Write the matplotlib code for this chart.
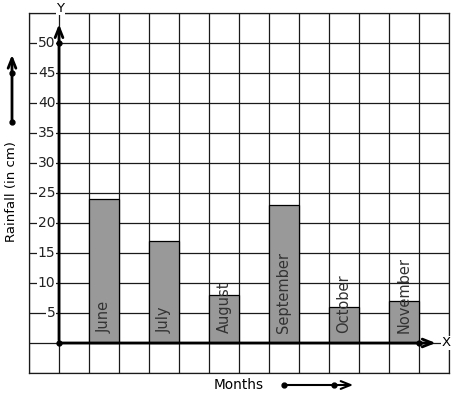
import matplotlib
matplotlib.use("Agg")
import matplotlib.pyplot as plt

# Data
months = ["June", "July", "August", "September", "October", "November"]
rainfall = [24, 17, 8, 23, 6, 7]
y_ticks = [5, 10, 15, 20, 25, 30, 35, 40, 45, 50]

W, H = 457, 399
fig = plt.figure(figsize=(W / 100, H / 100), dpi=100)
ax = fig.add_axes([29 / W, (H - 373) / H, 420 / W, 360 / H])
ax.set_xlim(-1, 13)
ax.set_ylim(-5, 55)

# Graph-paper grid
ax.set_xticks(range(-1, 14))
ax.set_yticks(range(-5, 56, 5))
ax.grid(True, color="#1a1a1a", lw=0.9)
ax.tick_params(length=0, labelbottom=False, labelleft=False)
for s in ax.spines.values():
    s.set_color("#1a1a1a")
    s.set_linewidth(0.9)
ax.set_axisbelow(True)

# Bars, one empty column between each
xpos = [1.5 + 2 * i for i in range(len(months))]
ax.bar(xpos, rainfall, width=1, color="#999999", edgecolor="black", lw=0.9, zorder=3)
for x, m in zip(xpos, months):
    ax.text(x, 1.6, m, rotation=90, ha="center", va="bottom",
            fontsize=10.5, color="#333333", zorder=4)

# Axis with arrows
arrow = "->,head_length=0.7,head_width=0.28"
ax.annotate("", xy=(0, 53.6), xytext=(0, 0),
            arrowprops=dict(arrowstyle=arrow, lw=2, color="black"), zorder=5)
ax.annotate("", xy=(12.65, 0), xytext=(0, 0),
            arrowprops=dict(arrowstyle=arrow, lw=2, color="black"), zorder=5)
ax.plot([0, 0, 12], [0, 50, 0], "o", color="black", ms=3.5, zorder=6)
ax.text(12.75, 0, "X", ha="left", va="center", fontsize=9.5,
        bbox=dict(fc="white", ec="none", pad=0.5), zorder=6)
ax.text(0.05, 55.8, "Y", ha="center", va="center", fontsize=9.5,
        bbox=dict(fc="white", ec="none", pad=0.5), zorder=6, clip_on=False)

# Tick values sitting on the grid lines
for v in y_ticks:
    ax.text(-0.12, v, str(v), ha="right", va="center", fontsize=10, color="#222222",
            bbox=dict(fc="white", ec="none", pad=0.3), zorder=4)

# Left label with arrow
fig.text(12 / W, (H - 192) / H, "Rainfall (in cm)", rotation=90,
         ha="center", va="center", fontsize=9.5)
ax.annotate("", xy=(12, H - 52), xytext=(12, H - 123), xycoords="figure pixels",
            textcoords="figure pixels",
            arrowprops=dict(arrowstyle=arrow, lw=2, color="black"))
ax.plot([12, 12], [H - 73, H - 122], "o", color="black", ms=3.5,
        transform=None, clip_on=False)

# Bottom label with arrow
fig.text(239 / W, (H - 385) / H, "Months", ha="center", va="center", fontsize=9.8)
ax.annotate("", xy=(356, H - 385), xytext=(284, H - 385), xycoords="figure pixels",
            textcoords="figure pixels",
            arrowprops=dict(arrowstyle=arrow, lw=1.5, color="black"))
ax.plot([284, 334], [H - 385, H - 385], "o", color="black", ms=3.5,
        transform=None, clip_on=False)

fig.savefig("out.png", dpi=100)
